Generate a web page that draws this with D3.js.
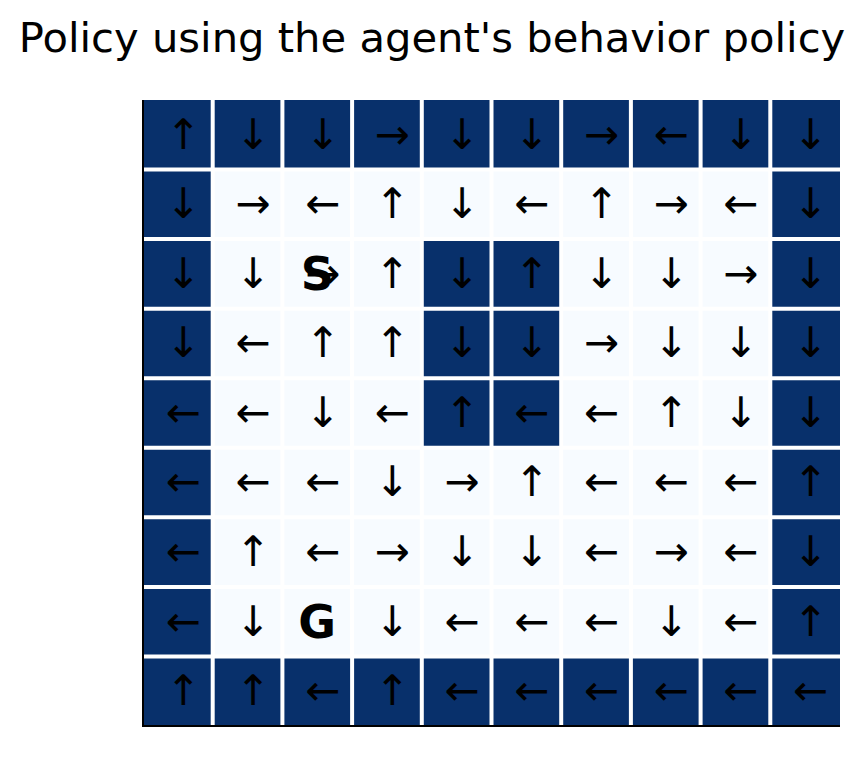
<!DOCTYPE html>
<html>
<head>
<meta charset="utf-8">
<script src="https://cdn.jsdelivr.net/npm/d3@7"></script>
<style>
  html, body { margin: 0; padding: 0; background: #ffffff; }
  svg { display: block; }
</style>
</head>
<body>
<div id="chart"></div>
<script>
// ---- data ----
const titleText = "Policy using the agent's behavior policy";
const nCols = 10;
const nRows = 9;
// action per cell, row by row (top to bottom)
const policyRows = [
  ["↑","↓","↓","→","↓","↓","→","←","↓","↓"],
  ["↓","→","←","↑","↓","←","↑","→","←","↓"],
  ["↓","↓","→","↑","↓","↑","↓","↓","→","↓"],
  ["↓","←","↑","↑","↓","↓","→","↓","↓","↓"],
  ["←","←","↓","←","↑","←","←","↑","↓","↓"],
  ["←","←","←","↓","→","↑","←","←","←","↑"],
  ["←","↑","←","→","↓","↓","←","→","←","↓"],
  ["←","↓","","↓","←","←","←","↓","←","↑"],
  ["↑","↑","←","↑","←","←","←","←","←","←"]
];
// 1 = wall (dark), 0 = free (light)
const wallRows = [
  [1,1,1,1,1,1,1,1,1,1],
  [1,0,0,0,0,0,0,0,0,1],
  [1,0,0,0,1,1,0,0,0,1],
  [1,0,0,0,1,1,0,0,0,1],
  [1,0,0,0,1,1,0,0,0,1],
  [1,0,0,0,0,0,0,0,0,1],
  [1,0,0,0,0,0,0,0,0,1],
  [1,0,0,0,0,0,0,0,0,1],
  [1,1,1,1,1,1,1,1,1,1]
];
const markers = [
  {label: "S", row: 2, col: 2},
  {label: "G", row: 7, col: 2}
];

// ---- layout ----
const W = 864, H = 760;
const margin = {left: 143, right: 24, top: 100, bottom: 34};

const svg = d3.select("#chart").append("svg")
  .attr("width", W).attr("height", H);

const x = d3.scaleBand().domain(d3.range(nCols)).range([margin.left, W - margin.right]).padding(0);
const y = d3.scaleBand().domain(d3.range(nRows)).range([margin.top, H - margin.bottom]).padding(0);
const color = d3.scaleLinear().domain([0, 1]).range(["#f7fbff", "#08306b"]);

const cells = [];
wallRows.forEach((row, r) => row.forEach((v, c) => cells.push({r, c, v, a: policyRows[r][c]})));

svg.append("g").selectAll("rect").data(cells).join("rect")
  .attr("x", d => x(d.c)).attr("y", d => y(d.r))
  .attr("width", x.bandwidth()).attr("height", y.bandwidth())
  .attr("fill", d => color(d.v));

// white separators
const sep = svg.append("g").attr("stroke", "#ffffff").attr("stroke-width", 4);
sep.selectAll("line.v").data(d3.range(1, nCols)).join("line").attr("class", "v")
  .attr("x1", d => x(d)).attr("x2", d => x(d))
  .attr("y1", margin.top).attr("y2", H - margin.bottom);
sep.selectAll("line.h").data(d3.range(1, nRows)).join("line").attr("class", "h")
  .attr("y1", d => y(d)).attr("y2", d => y(d))
  .attr("x1", margin.left).attr("x2", W - margin.right);

// arrows
const fs = 42;
svg.append("g").selectAll("text").data(cells.filter(d => d.a)).join("text")
  .attr("x", d => x(d.c) + x.bandwidth() / 2)
  .attr("y", d => y(d.r) + y.bandwidth() / 2)
  .attr("dx", 5.5)
  .attr("dy", "0.33em")
  .attr("text-anchor", "middle")
  .attr("font-family", "DejaVu Sans")
  .attr("font-size", fs)
  .attr("fill", "#000")
  .text(d => d.a);

// S / G markers
svg.append("g").selectAll("text").data(markers).join("text")
  .attr("x", d => x(d.col) + x.bandwidth() / 2)
  .attr("y", d => y(d.row) + y.bandwidth() / 2)
  .attr("dy", "0.36em")
  .attr("text-anchor", "middle")
  .attr("font-family", "DejaVu Sans")
  .attr("font-weight", "bold")
  .attr("font-size", 46)
  .attr("fill", "#000")
  .text(d => d.label);

// spines (left and bottom)
const axG = svg.append("g").attr("stroke", "#000").attr("stroke-width", 2);
axG.append("line").attr("x1", margin.left).attr("x2", margin.left)
  .attr("y1", margin.top).attr("y2", H - margin.bottom);
axG.append("line").attr("x1", margin.left - 1).attr("x2", W - margin.right)
  .attr("y1", H - margin.bottom).attr("y2", H - margin.bottom);

// title
svg.append("text")
  .attr("x", 432).attr("y", 52)
  .attr("text-anchor", "middle")
  .attr("font-family", "DejaVu Sans")
  .attr("font-size", 41.7)
  .attr("fill", "#000")
  .text(titleText);
</script>
</body>
</html>
